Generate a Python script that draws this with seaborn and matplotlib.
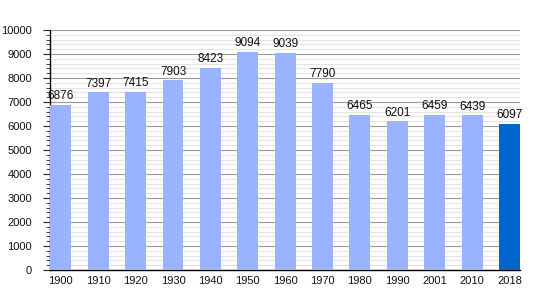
import matplotlib
matplotlib.use("Agg")
import matplotlib.pyplot as plt
import seaborn as sns
import pandas as pd
from matplotlib.ticker import MultipleLocator

years = ["1900", "1910", "1920", "1930", "1940", "1950", "1960", "1970", "1980", "1990", "2001", "2010", "2018"]
population = [6876, 7397, 7415, 7903, 8423, 9094, 9039, 7790, 6465, 6201, 6459, 6439, 6097]
kind = ["past"] * 12 + ["latest"]

df = pd.DataFrame({"year": years, "pop": population, "kind": kind})

sns.set_style("white")
plt.rcParams['font.family'] = ['Liberation Sans', 'DejaVu Sans']

fig = plt.figure(figsize=(5.5, 3.0), dpi=100)
ax = fig.add_axes([50/550, 30/300, 470/550, 240/300])

sns.barplot(data=df, x="year", y="pop", hue="kind",
            palette={"past": "#99b3ff", "latest": "#0066cc"},
            width=0.56, dodge=False, legend=False, ax=ax, zorder=3,
            saturation=1, linewidth=0)

for i, v in enumerate(population):
    ax.text(i, v + 110, str(v), ha="center", va="bottom", fontsize=8.5, color="#111111", zorder=4)

ax.set_ylim(0, 10000)
ax.set_xlim(-0.29, 12.28)
ax.yaxis.set_major_locator(MultipleLocator(1000))
ax.yaxis.set_minor_locator(MultipleLocator(200))
ax.grid(which="major", axis="y", color="#9a9a9a", linewidth=0.8, zorder=1)
ax.grid(which="minor", axis="y", color="#e4e4e4", linewidth=0.8, zorder=1)
ax.set_axisbelow(True)

for s in ["top", "right"]:
    ax.spines[s].set_visible(False)
ax.spines["left"].set_color("black")
ax.spines["bottom"].set_color("black")
ax.spines["left"].set_linewidth(1.0)
ax.spines["bottom"].set_linewidth(1.0)

ax.tick_params(axis="y", which="major", left=True, length=5, width=0.8, labelsize=8, pad=8, labelcolor="#111111")
ax.tick_params(axis="y", which="minor", left=True, length=3, width=0.6)
ax.tick_params(axis="x", which="major", bottom=False, labelsize=8, pad=1, labelcolor="#111111")
ax.set_xlabel("")
ax.set_ylabel("")

fig.savefig("out.png", dpi=100)
